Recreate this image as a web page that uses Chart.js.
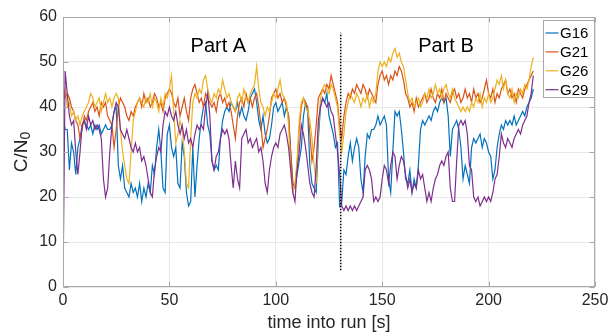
<!DOCTYPE html>
<html>
<head>
<meta charset="utf-8">
<script src="https://cdn.jsdelivr.net/npm/chart.js@4.4.1/dist/chart.umd.min.js"></script>
<style>
  html, body { margin: 0; padding: 0; background: #fff; }
  canvas { display: block; }
</style>
</head>
<body>
<canvas id="myChart" width="609" height="335"></canvas>
<script>
const satellites = ['G16', 'G21', 'G26', 'G29']
const xTicks = [0, 50, 100, 150, 200, 250]
const yTicks = [0, 10, 20, 30, 40, 50, 60]
const sampleStep = 1 // seconds between samples

const g16 = [
  38, 35, 35, 26, 32, 30, 25, 31, 33, 36,
  37, 36, 35, 36, 34, 36, 35, 36, 34, 35,
  36, 35, 35, 36, 39, 40, 27, 24, 27, 22,
  21, 20, 23, 21, 22, 20, 23, 19, 22, 20,
  23, 21, 27, 25, 31, 35, 30, 22, 21, 34,
  36, 31, 29, 31, 23, 22, 32, 29, 21, 18,
  19, 31, 20, 27, 33, 37, 40, 41, 36, 34,
  28, 26, 27, 26, 33, 37, 39, 40, 39, 41,
  40, 39, 41, 38, 40, 38, 37, 39, 42, 43,
  44, 41, 37, 35, 38, 34, 32, 33, 36, 40,
  41, 39, 40, 41, 38, 40, 38, 30, 23, 22,
  25, 28, 31, 38, 41, 39, 27, 23, 22, 21,
  33, 40, 42, 41, 43, 38, 36, 34, 31, 32,
  18, 19, 26, 25, 29, 32, 28, 31, 33, 31,
  24, 21, 29, 34, 33, 35, 35, 36, 38, 36,
  37, 38, 36, 24, 21, 30, 39, 38, 39, 35,
  30, 24, 23, 26, 21, 24, 22, 27, 35, 37,
  36, 37, 38, 37, 39, 40, 39, 41, 42, 41,
  42, 38, 29, 35, 36, 37, 35, 31, 24, 27,
  25, 23, 31, 33, 32, 33, 34, 31, 33, 32,
  30, 29, 24, 26, 31, 34, 36, 35, 37, 36,
  37, 36, 38, 36, 37, 38, 39, 38, 40, 41,
  42, 44,
]

const g21 = [
  44, 42, 43, 42, 40, 39, 37, 36, 33, 35,
  38, 37, 39, 40, 41, 39, 40, 38, 41, 40,
  41, 38, 37, 36, 31, 35, 40, 42, 41, 40,
  38, 37, 39, 38, 40, 41, 42, 40, 43, 41,
  42, 40, 41, 43, 42, 40, 41, 39, 42, 43,
  44, 43, 41, 40, 42, 38, 40, 42, 39, 37,
  42, 44, 45, 43, 41, 42, 40, 43, 42, 41,
  40, 41, 39, 42, 43, 41, 42, 40, 41, 39,
  36, 33, 38, 41, 42, 40, 43, 41, 42, 40,
  42, 43, 40, 36, 31, 33, 35, 38, 42, 43,
  44, 42, 43, 41, 42, 40, 38, 30, 23, 22,
  27, 35, 40, 42, 41, 40, 34, 28, 31, 36,
  42, 43, 44, 43, 45, 44, 47, 45, 43, 41,
  36, 33, 38, 41, 43, 42, 44, 43, 45, 44,
  43, 45, 44, 42, 44, 43, 42, 41, 45, 47,
  48, 46, 47, 45, 47, 46, 48, 47, 49, 48,
  46, 43, 42, 40, 41, 39, 42, 40, 41, 42,
  43, 41, 42, 44, 42, 41, 43, 42, 44, 41,
  43, 42, 41, 43, 44, 42, 43, 41, 42, 44,
  42, 43, 41, 44, 42, 43, 41, 42, 44, 46,
  43, 42, 44, 41, 43, 42, 44, 45, 46, 43,
  44, 42, 43, 41, 44, 43, 42, 44, 45, 46,
  47, 48,
]

const g26 = [
  42, 44, 40, 41, 38, 39, 37, 38, 36, 38,
  39, 40, 41, 43, 42, 40, 41, 42, 39, 41,
  43, 41, 42, 40, 42, 43, 42, 35, 30, 27,
  24, 23, 30, 37, 39, 41, 42, 41, 40, 42,
  41, 43, 40, 42, 41, 39, 42, 40, 43, 42,
  44, 47, 39, 32, 34, 37, 35, 30, 23, 22,
  33, 41, 43, 42, 44, 43, 46, 47, 44, 42,
  41, 43, 42, 44, 43, 46, 44, 42, 43, 41,
  40, 39, 42, 43, 41, 44, 42, 41, 43, 44,
  45, 49, 44, 41, 40, 38, 40, 39, 41, 43,
  42, 44, 46, 43, 42, 41, 36, 26, 21, 23,
  28, 37, 41, 42, 40, 39, 37, 33, 27, 23,
  35, 42, 44, 45, 44, 43, 45, 44, 42, 40,
  34, 30, 34, 39, 41, 43, 42, 41, 43, 42,
  40, 42, 41, 43, 40, 42, 41, 43, 48, 50,
  49, 50, 49, 51, 50, 52, 53, 51, 52, 50,
  49, 46, 43, 41, 42, 40, 41, 42, 40, 41,
  43, 42, 44, 42, 43, 45, 43, 44, 42, 44,
  45, 43, 42, 44, 42, 41, 40, 39, 40, 39,
  40, 39, 41, 40, 42, 41, 43, 40, 42, 41,
  43, 41, 42, 44, 46, 45, 47, 44, 46, 43,
  42, 44, 41, 43, 42, 44, 43, 45, 44, 46,
  49, 51,
]

const g29 = [
  0, 48, 43, 38, 36, 37, 30, 25, 30, 36,
  37, 35, 38, 36, 37, 35, 36, 35, 33, 24,
  20, 22, 30, 36, 39, 41, 40, 35, 34, 33,
  35, 33, 31, 30, 32, 30, 31, 28, 29, 27,
  24, 21, 20, 26, 29, 31, 30, 36, 39, 38,
  40, 38, 37, 39, 36, 34, 36, 33, 35, 32,
  33, 31, 34, 36, 35, 36, 35, 40, 43, 38,
  28, 26, 29, 30, 33, 35, 34, 35, 33, 27,
  22, 28, 24, 22, 33, 34, 35, 32, 33, 31,
  32, 33, 30, 31, 28, 23, 21, 26, 29, 31,
  32, 31, 34, 35, 36, 34, 31, 26, 21, 19,
  26, 30, 36, 34, 31, 27, 23, 21, 20, 27,
  37, 40, 42, 41, 40, 41, 39, 38, 34, 30,
  25, 18, 17, 18, 17, 18, 17, 18, 17, 18,
  19, 20, 26, 27, 26, 24, 19, 20, 19, 20,
  24, 27, 26, 23, 27, 30, 29, 24, 27, 29,
  28, 25, 22, 24, 21, 23, 22, 26, 24, 25,
  22, 19, 21, 19, 22, 24, 25, 27, 28, 27,
  29, 30, 22, 19, 19, 28, 36, 37, 36, 37,
  34, 27, 26, 20, 19, 20, 18, 19, 20, 19,
  20, 19, 21, 24, 25, 29, 34, 32, 31, 33,
  32, 31, 33, 34, 35, 34, 36, 37, 38, 41,
  43, 47,
]

// dotted divider between the two parts of the run
const partSplit = 130.5
const splitRange = [3.7, 56.5]
const partNames = ['Part A', 'Part B']
const partCenters = [73, 180]
const partBaseline = 52.2

const colors = ['#0072BD', '#D95319', '#EDB120', '#7E2F8E']
const fontFamily = '"Liberation Sans", Arial, Helvetica, sans-serif'
const textColor = '#262626'
const axisColor = '#a8a8a8'
const gridColor = '#e8e8e8'

const seriesValues = [g16, g21, g26, g29]

const toPoints = (values) =>
  values.map((value, i) => ({ x: i * sampleStep, y: value }))

const datasets = satellites.map((name, i) => ({
  label: name,
  data: toPoints(seriesValues[i]),
  borderColor: colors[i],
  backgroundColor: colors[i],
  borderWidth: 1.2,
  pointRadius: 0,
  tension: 0,
  order: satellites.length - i,
}))

datasets.push({
  label: 'split',
  data: [
    { x: partSplit, y: splitRange[0] },
    { x: partSplit, y: splitRange[1] },
  ],
  borderColor: '#000',
  borderWidth: 1.5,
  borderDash: [1.5, 1.5],
  pointRadius: 0,
  order: 0,
})

const matlabFrame = {
  id: 'matlabFrame',
  afterDatasetsDraw(chart) {
    const {
      ctx,
      chartArea: { left, top, right, bottom },
      scales: { x, y },
    } = chart
    ctx.save()

    // part labels
    ctx.font = `20px ${fontFamily}`
    ctx.fillStyle = '#000'
    ctx.textAlign = 'center'
    ctx.textBaseline = 'alphabetic'
    partNames.forEach((name, i) => {
      ctx.fillText(name, x.getPixelForValue(partCenters[i]), y.getPixelForValue(partBaseline))
    })

    // axes box
    const l = Math.round(left) + 0.5
    const r = Math.round(right) - 0.5
    const t = Math.round(top) + 0.5
    const b = Math.round(bottom) - 0.5
    ctx.strokeStyle = axisColor
    ctx.lineWidth = 1
    ctx.strokeRect(l, t, r - l, b - t)

    // inward tick marks
    ctx.beginPath()
    xTicks.forEach((v) => {
      const px = Math.round(x.getPixelForValue(v)) + 0.5
      ctx.moveTo(px, b)
      ctx.lineTo(px, b - 5)
      ctx.moveTo(px, t)
      ctx.lineTo(px, t + 5)
    })
    yTicks.forEach((v) => {
      const py = Math.round(y.getPixelForValue(v)) + 0.5
      ctx.moveTo(l, py)
      ctx.lineTo(l + 5, py)
      ctx.moveTo(r, py)
      ctx.lineTo(r - 5, py)
    })
    ctx.stroke()

    // legend box
    const boxLeft = Math.round(right) - 51.5
    const boxTop = t + 3
    const boxRight = r
    const boxBottom = boxTop + 77
    ctx.fillStyle = '#fff'
    ctx.fillRect(boxLeft, boxTop, boxRight - boxLeft, boxBottom - boxTop)
    ctx.strokeStyle = axisColor
    ctx.strokeRect(boxLeft, boxTop, boxRight - boxLeft, boxBottom - boxTop)

    ctx.font = `15px ${fontFamily}`
    ctx.textAlign = 'left'
    ctx.textBaseline = 'middle'
    satellites.forEach((name, i) => {
      const rowY = boxTop + 12.5 + i * 18.9
      ctx.strokeStyle = colors[i]
      ctx.lineWidth = 1.2
      ctx.beginPath()
      ctx.moveTo(boxLeft + 2, rowY)
      ctx.lineTo(boxLeft + 15, rowY)
      ctx.stroke()
      ctx.fillStyle = '#000'
      ctx.fillText(name, boxLeft + 16.5, rowY + 1)
    })

    // y axis title with subscript
    ctx.fillStyle = textColor
    ctx.translate(27, (top + bottom) / 2)
    ctx.rotate(-Math.PI / 2)
    ctx.textBaseline = 'alphabetic'
    ctx.font = `19px ${fontFamily}`
    const main = 'C/N'
    const mainW = ctx.measureText(main).width
    ctx.font = `14px ${fontFamily}`
    const sub = '0'
    const subW = ctx.measureText(sub).width
    const start = -(mainW + subW) / 2
    ctx.font = `19px ${fontFamily}`
    ctx.fillText(main, start, 0)
    ctx.font = `14px ${fontFamily}`
    ctx.fillText(sub, start + mainW, 3)

    ctx.restore()
  },
}

const config = {
  type: 'line',
  data: { datasets },
  options: {
    responsive: false,
    animation: false,
    devicePixelRatio: 1,
    layout: { padding: { top: 17, right: 14, left: 0, bottom: 0 } },
    plugins: {
      legend: { display: false },
      tooltip: { enabled: false },
    },
    scales: {
      x: {
        type: 'linear',
        min: xTicks[0],
        max: xTicks[xTicks.length - 1],
        afterBuildTicks: (scale) => {
          scale.ticks = xTicks.map((v) => ({ value: v }))
        },
        afterFit: (scale) => {
          scale.height = 48
          scale.paddingLeft = 0
          scale.paddingRight = 0
        },
        grid: { color: gridColor, drawTicks: false },
        border: { display: false },
        ticks: {
          padding: 4,
          color: textColor,
          maxRotation: 0,
          font: { size: 16, family: fontFamily },
        },
        title: {
          display: true,
          text: 'time into run [s]',
          color: textColor,
          font: { size: 18, family: fontFamily },
          padding: { top: 0, bottom: 1 },
        },
      },
      y: {
        min: yTicks[0],
        max: yTicks[yTicks.length - 1],
        afterBuildTicks: (scale) => {
          scale.ticks = yTicks.map((v) => ({ value: v }))
        },
        afterFit: (scale) => {
          scale.width = 63
          scale.paddingTop = 0
          scale.paddingBottom = 0
        },
        grid: { color: gridColor, drawTicks: false },
        border: { display: false },
        ticks: {
          padding: 6,
          color: textColor,
          font: { size: 16, family: fontFamily },
        },
      },
    },
  },
  plugins: [matlabFrame],
}

const myChart = new Chart(document.getElementById('myChart'), config)
</script>
</body>
</html>
